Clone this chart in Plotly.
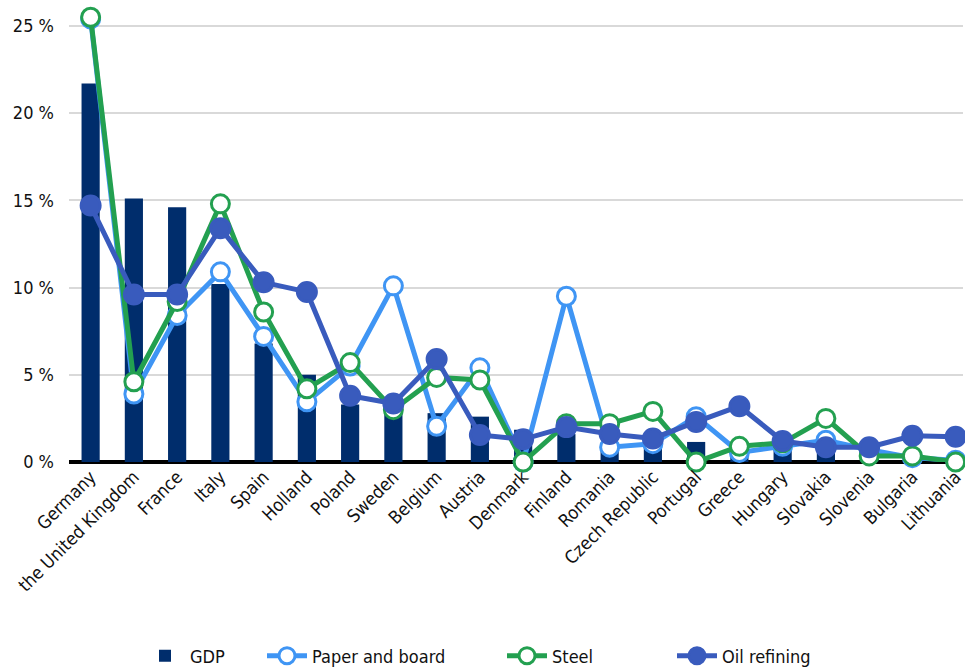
import plotly.graph_objects as go

countries = [
    "Germany", "the United Kingdom", "France", "Italy", "Spain", "Holland",
    "Poland", "Sweden", "Belgium", "Austria", "Denmark", "Finland", "Romania",
    "Czech Republic", "Portugal", "Greece", "Hungary", "Slovakia", "Slovenia",
    "Bulgaria", "Lithuania",
]

gdp = [21.7, 15.1, 14.6, 10.2, 6.8, 5.0, 3.3, 2.8, 2.8, 2.6, 1.85, 1.6, 1.1,
       0.85, 1.15, 0.6, 0.8, 0.9, 0.4, 0.3, 0.3]
paper_and_board = [25.4, 3.9, 8.4, 10.9, 7.2, 3.45, 5.5, 10.1, 2.05, 5.4, 0.0,
                   9.5, 0.85, 1.05, 2.6, 0.55, 0.9, 1.25, 0.7, 0.25, 0.1]
steel = [25.5, 4.6, 9.2, 14.8, 8.6, 4.2, 5.7, 3.0, 4.85, 4.7, 0.0, 2.2, 2.2,
         2.9, 0.0, 0.9, 1.1, 2.5, 0.35, 0.35, 0.0]
oil_refining = [14.7, 9.6, 9.6, 13.4, 10.3, 9.75, 3.8, 3.35, 5.9, 1.55, 1.3,
                2.0, 1.6, 1.35, 2.3, 3.2, 1.2, 0.85, 0.85, 1.5, 1.45]

y_ticks = [0, 5, 10, 15, 20, 25]
y_tick_labels = ["0 %", "5 %", "10 %", "15 %", "20 %", "25 %"]

FONT = "DejaVu Sans Condensed, Liberation Sans Narrow, Open Sans, sans-serif"
NAVY = "#002d6c"
LIGHT_BLUE = "#3f95f4"
GREEN = "#23a050"
ROYAL = "#395bbd"

W, H = 965, 670

fig = go.Figure()

fig.add_trace(go.Bar(
    x=countries, y=gdp, name="GDP",
    marker=dict(color=NAVY, line=dict(width=0)),
    width=0.42, legend="legend",
))


def line_trace(values, name, color, filled, legend_id):
    return go.Scatter(
        x=countries, y=values, name=name, mode="lines+markers",
        line=dict(color=color, width=5),
        marker=dict(
            size=19 if filled else 18,
            color=color if filled else "white",
            line=dict(color=color, width=3),
        ),
        cliponaxis=False, legend=legend_id,
    )


fig.add_trace(line_trace(paper_and_board, "Paper and board", LIGHT_BLUE, False, "legend2"))
fig.add_trace(line_trace(steel, "Steel", GREEN, False, "legend3"))
fig.add_trace(line_trace(oil_refining, "Oil refining", ROYAL, True, "legend4"))


def legend_box(left_px):
    # one single-entry legend per series, placed along the bottom row
    return dict(
        orientation="h", xref="container", yref="container",
        x=left_px / W, xanchor="left", y=(H - 656) / H, yanchor="middle",
        font=dict(family=FONT, size=18, color="#111111"),
        itemwidth=40, bgcolor="rgba(0,0,0,0)",
    )


fig.update_layout(
    width=W, height=H,
    margin=dict(l=69, r=0, t=5, b=208),
    paper_bgcolor="white", plot_bgcolor="white",
    font=dict(family=FONT, size=18, color="#111111"),
    showlegend=True,
    legend=legend_box(140),
    legend2=legend_box(262),
    legend3=legend_box(502),
    legend4=legend_box(672),
    bargap=0.58,
)

fig.update_xaxes(
    type="category", range=[-0.5, 20.17],
    tickangle=-45, tickfont=dict(family=FONT, size=18),
    showgrid=False, showline=False, ticks="",
)
fig.update_yaxes(
    range=[0, 26.2], tickmode="array", tickvals=y_ticks, ticktext=y_tick_labels,
    tickfont=dict(family=FONT, size=18),
    showgrid=True, gridcolor="#d9d9d9", gridwidth=2,
    zeroline=True, zerolinecolor="black", zerolinewidth=4,
    showline=False, ticks="", ticklabelstandoff=14,
)

fig.write_html("out.html")
